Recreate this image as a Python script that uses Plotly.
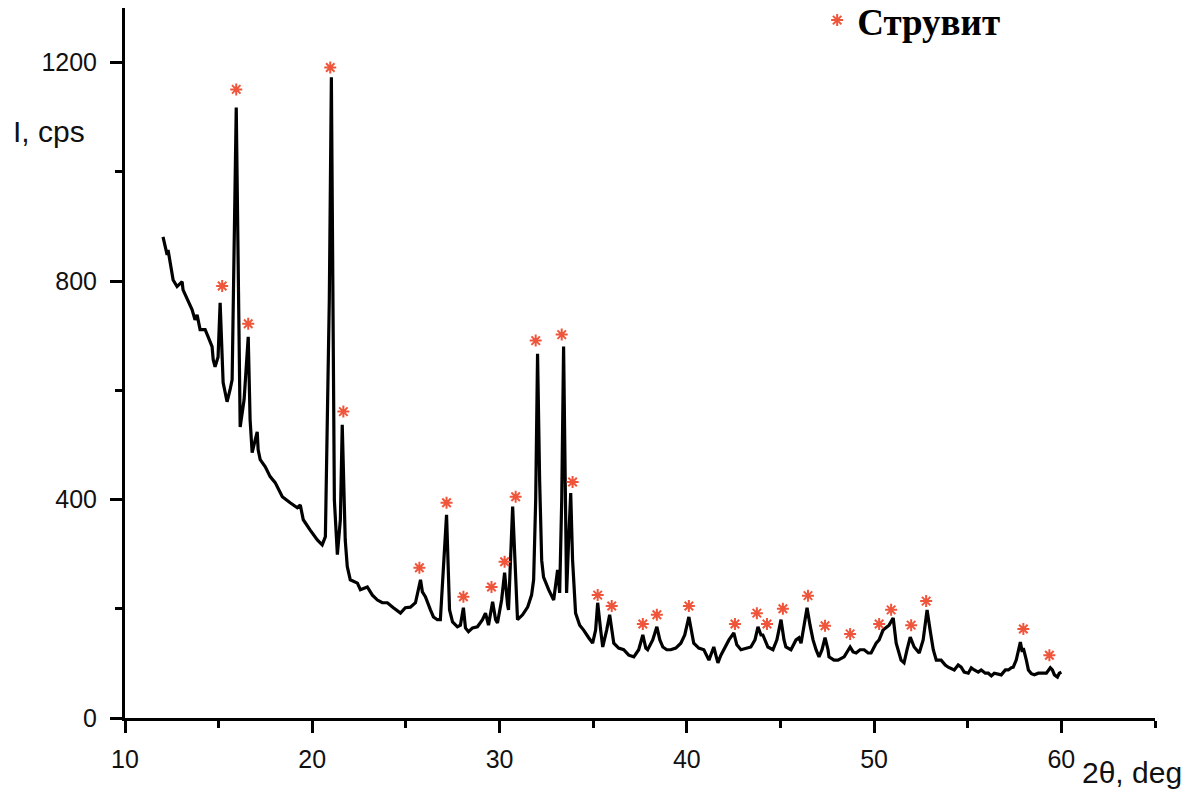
import plotly.graph_objects as go

# XRD pattern (2theta, deg) and intensity (cps)
two_theta = [12.03, 12.14, 12.25, 12.30, 12.41, 12.57, 12.78, 13.05, 13.10, 13.32, 13.58, 13.74, 13.85,
             14.01, 14.28, 14.44, 14.65, 14.71, 14.81, 14.97, 15.08, 15.24, 15.45, 15.61, 15.72, 15.94,
             16.15, 16.36, 16.58, 16.68, 16.79, 16.95, 17.06, 17.11, 17.22, 17.49, 17.75, 18.02, 18.13,
             18.40, 18.82, 19.20, 19.36, 19.52, 19.89, 20.27, 20.53, 20.70, 20.91, 21.02, 21.18, 21.34,
             21.50, 21.60, 21.76, 21.87, 22.03, 22.41, 22.57, 22.94, 23.21, 23.48, 23.74, 24.01, 24.33,
             24.71, 24.97, 25.24, 25.51, 25.67, 25.78, 25.88, 26.04, 26.31, 26.47, 26.68, 26.84, 27.17,
             27.33, 27.49, 27.75, 27.91, 28.07, 28.18, 28.34, 28.56, 28.82, 29.09, 29.25, 29.41, 29.63,
             29.79, 29.89, 30.11, 30.27, 30.43, 30.48, 30.70, 30.86, 30.96, 31.23, 31.50, 31.71, 31.82,
             31.93, 32.03, 32.14, 32.25, 32.35, 32.62, 32.89, 33.10, 33.21, 33.32, 33.42, 33.53, 33.58,
             33.69, 33.80, 33.90, 34.06, 34.28, 34.49, 34.76, 34.97, 35.13, 35.24, 35.40, 35.51, 35.72,
             35.88, 36.10, 36.36, 36.63, 36.90, 37.17, 37.43, 37.65, 37.81, 37.91, 38.18, 38.40, 38.56,
             38.72, 38.93, 39.14, 39.41, 39.68, 39.89, 40.11, 40.27, 40.37, 40.64, 40.91, 41.18, 41.34,
             41.44, 41.55, 41.66, 41.82, 41.98, 42.25, 42.51, 42.67, 42.89, 43.16, 43.42, 43.64, 43.80,
             43.96, 44.06, 44.22, 44.33, 44.60, 44.81, 45.03, 45.19, 45.29, 45.56, 45.83, 45.99, 46.10,
             46.26, 46.42, 46.58, 46.74, 46.90, 47.06, 47.22, 47.38, 47.54, 47.59, 47.86, 48.07, 48.40,
             48.56, 48.72, 48.88, 49.04, 49.25, 49.47, 49.68, 49.84, 50.11, 50.27, 50.48, 50.64, 50.80,
             51.02, 51.18, 51.44, 51.60, 51.76, 51.93, 52.14, 52.41, 52.62, 52.83, 52.99, 53.16, 53.32,
             53.58, 53.80, 53.96, 54.28, 54.49, 54.65, 54.81, 55.03, 55.19, 55.35, 55.56, 55.72, 55.94,
             56.10, 56.26, 56.42, 56.63, 56.79, 57.01, 57.17, 57.33, 57.43, 57.59, 57.70, 57.81, 57.91,
             57.97, 58.13, 58.24, 58.40, 58.56, 58.77, 58.93, 59.20, 59.41, 59.52, 59.63, 59.79, 59.89,
             60.00]
intensity = [881, 867, 848, 857, 834, 802, 790, 799, 784, 766, 748, 729, 738,
             711, 711, 698, 680, 656, 643, 661, 760, 614, 579, 601, 619, 1118,
             533, 583, 698, 546, 486, 509, 524, 491, 473, 460, 442, 431, 423,
             405, 394, 385, 390, 363, 344, 326, 317, 332, 766, 1173, 399, 299,
             363, 537, 326, 277, 253, 247, 235, 240, 225, 216, 211, 211, 202,
             192, 202, 203, 211, 235, 253, 231, 222, 198, 185, 180, 180, 372,
             198, 176, 167, 170, 202, 165, 158, 165, 167, 180, 192, 170, 213,
             180, 174, 216, 266, 207, 198, 387, 235, 180, 189, 203, 225, 253,
             399, 667, 436, 289, 258, 235, 216, 271, 229, 399, 680, 399, 229,
             326, 412, 289, 192, 170, 161, 147, 137, 161, 211, 161, 130, 161,
             189, 137, 128, 125, 115, 112, 125, 152, 128, 125, 143, 167, 143,
             130, 125, 125, 128, 137, 152, 185, 152, 137, 128, 125, 106, 121,
             130, 115, 101, 115, 125, 143, 156, 134, 125, 128, 130, 143, 167,
             152, 152, 139, 130, 125, 143, 180, 143, 130, 125, 143, 147, 137,
             170, 202, 170, 143, 125, 112, 125, 147, 125, 112, 106, 106, 112,
             121, 130, 121, 119, 125, 125, 119, 119, 137, 143, 161, 165, 170,
             183, 137, 106, 101, 125, 148, 130, 119, 143, 198, 161, 125, 106,
             106, 97, 93, 88, 97, 93, 84, 82, 92, 88, 84, 88, 82,
             82, 77, 82, 81, 79, 88, 88, 92, 93, 106, 125, 139, 121,
             128, 106, 88, 81, 79, 82, 82, 82, 92, 88, 79, 75, 82,
             84]

# Struvite reflections marked with asterisks
struvite_x = [15.19, 15.94, 16.58, 20.96, 21.66, 25.72, 27.17, 28.07, 29.57, 30.27, 30.86, 31.93,
              33.32, 33.90, 35.24, 35.99, 37.65, 38.40, 40.11, 42.57, 43.74, 44.28, 45.13, 46.47,
              47.38, 48.72, 50.27, 50.91, 51.98, 52.78, 57.97, 59.36]
struvite_y = [791, 1151, 722, 1191, 561, 275, 394, 222, 240, 286, 405, 691,
              702, 432, 225, 205, 172, 189, 205, 172, 192, 172, 200, 224,
              169, 154, 172, 198, 170, 214, 163, 115]

x_ticks = [10, 20, 30, 40, 50, 60]
y_ticks = [0, 400, 800, 1200]

star_color = "#e8505f"

fig = go.Figure()
fig.add_trace(go.Scatter(x=two_theta, y=intensity, mode="lines",
                         line=dict(color="black", width=3.2), showlegend=False))
fig.add_trace(go.Scatter(x=struvite_x, y=struvite_y, mode="markers", name="Струвит",
                         marker=dict(symbol="asterisk-open", size=10,
                                     line=dict(color=star_color, width=2)),
                         showlegend=True))

tickfont = dict(family="Liberation Sans, Arial, sans-serif", size=25, color="#111")
labelfont = dict(family="Liberation Sans, Arial, sans-serif", size=30, color="#111")

fig.update_layout(
    width=1200, height=791,
    margin=dict(l=125, r=45, t=8, b=73, autoexpand=False),
    plot_bgcolor="white", paper_bgcolor="white",
    xaxis=dict(range=[10, 65], tickvals=x_ticks, ticks="outside", ticklen=12, tickwidth=3,
               tickcolor="black", showline=True, linecolor="black", linewidth=3,
               showgrid=False, zeroline=False, tickfont=tickfont, ticklabelstandoff=5,
               minor=dict(dtick=5, tick0=10, ticks="outside", ticklen=7, tickwidth=3,
                          tickcolor="black", showgrid=False)),
    yaxis=dict(range=[0, 1300], tickvals=y_ticks, ticks="outside", ticklen=12, tickwidth=3,
               tickcolor="black", showline=True, linecolor="black", linewidth=3,
               showgrid=False, zeroline=False, tickfont=tickfont, ticklabelstandoff=8,
               minor=dict(dtick=200, tick0=0, ticks="outside", ticklen=7, tickwidth=3,
                          tickcolor="black", showgrid=False)),
    legend=dict(x=0.672, y=1.026, xanchor="left", yanchor="top", bgcolor="rgba(0,0,0,0)",
                font=dict(family="Liberation Serif, Times New Roman, serif", size=37,
                          color="black", weight="bold")),
    annotations=[
        dict(text="I, cps", xref="paper", yref="paper", x=-0.1107, y=0.826,
             xanchor="left", yanchor="middle", showarrow=False, font=labelfont),
        dict(text="2θ, deg", xref="paper", yref="paper", x=0.927, y=-0.077,
             xanchor="left", yanchor="middle", showarrow=False, font=labelfont),
    ],
)

fig.write_html("out.html")
